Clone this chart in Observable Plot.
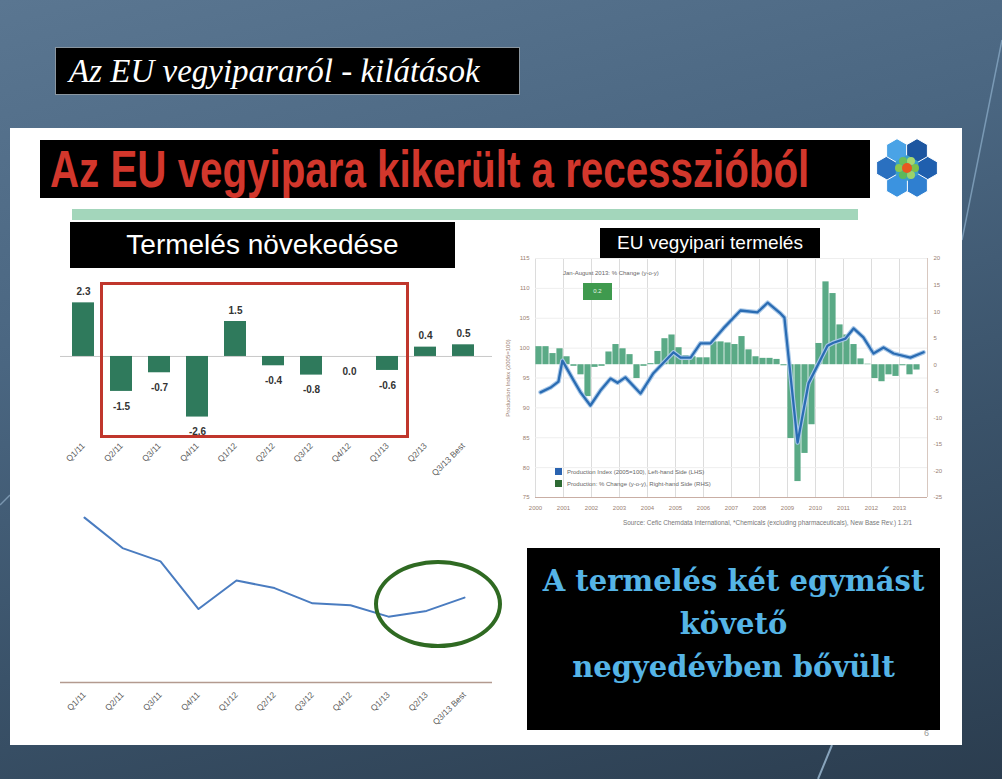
<!DOCTYPE html>
<html><head><meta charset="utf-8">
<script src="https://cdn.jsdelivr.net/npm/d3@7"></script>
<script src="https://cdn.jsdelivr.net/npm/@observablehq/plot@0.6"></script>
<style>
html,body{margin:0;padding:0;}
body{width:1002px;height:779px;position:relative;overflow:hidden;
 background:linear-gradient(165deg,#5a7691 0%,#4a6681 35%,#3a5269 65%,#2b3d4f 100%);
 font-family:"Liberation Sans",Arial,sans-serif;}
.abs{position:absolute;}
#panel{left:10px;top:128px;width:952px;height:617px;background:#fff;}
#topbox{left:55px;top:47px;background:#000;border:1px solid #8a96a0;color:#fff;
 font-family:"Liberation Serif",serif;font-style:italic;font-size:33px;line-height:46px;padding-left:13px;box-sizing:border-box;width:465px;height:48px;white-space:nowrap;}
#redbox{left:40px;top:140px;width:830px;height:58px;background:#000;overflow:hidden;}
#redtxt{position:absolute;left:10px;top:0;color:#d2372c;font-weight:bold;font-size:52px;line-height:58px;white-space:nowrap;transform:scaleX(0.775);transform-origin:0 50%;}
#greenbar{left:72px;top:209px;width:786px;height:11px;background:#a3d6bb;}
#termbox{left:70px;top:222px;width:385px;height:46px;background:#000;color:#fff;font-size:28px;line-height:46px;text-align:center;}
#eubox{left:600px;top:228px;width:220px;height:30px;background:#000;color:#fff;font-size:19px;line-height:30px;text-align:center;}
#redrect{left:100px;top:282px;width:309px;height:156px;border:3px solid #c0362c;box-sizing:border-box;}
#ellipse{left:374px;top:560px;width:128px;height:88px;border:4px solid #2f6a22;border-radius:50%;box-sizing:border-box;}
#bluebox{left:527px;top:548px;width:413px;height:182px;background:#000;color:#55b4e6;font-family:"DejaVu Serif",serif;font-weight:bold;font-size:29px;line-height:43px;text-align:center;padding-top:12px;box-sizing:border-box;white-space:nowrap;}
.tiny{font-size:6px;color:#666;white-space:nowrap;}
</style></head>
<body>
<svg class="abs" style="left:0;top:0" width="1002" height="779">
 <line x1="1002" y1="40" x2="962" y2="240" stroke="#8fb0cc" stroke-width="1.5" opacity="0.7"/>
 <line x1="832" y1="745" x2="818" y2="779" stroke="#9fbdd6" stroke-width="2" opacity="0.8"/>
 <line x1="0" y1="505" x2="10" y2="495" stroke="#9fbdd6" stroke-width="1.5" opacity="0.6"/>
</svg>
<div id="topbox" class="abs">Az EU vegyipararól - kilátások</div>
<div id="panel" class="abs"></div>
<div id="redbox" class="abs"><div id="redtxt">Az EU vegyipara kikerült a recesszióból</div></div>
<svg class="abs" style="left:872px;top:135px" width="70" height="66" viewBox="-35 -33 70 66">
 <g id="logo"></g>
</svg>
<div id="greenbar" class="abs"></div>
<div id="termbox" class="abs">Termelés növekedése</div>
<div id="barchart" class="abs" style="left:50px;top:280px"></div>
<div id="redrect" class="abs"></div>
<div id="linechart" class="abs" style="left:50px;top:500px"></div>
<div id="ellipse" class="abs"></div>
<div id="eucchart" class="abs" style="left:500px;top:250px"></div>
<div id="eubox" class="abs">EU vegyipari termelés</div>
<div class="abs tiny" style="left:563px;top:270px;">Jan-August 2013: % Change (y-o-y)</div>
<div class="abs" style="left:583px;top:283px;width:29px;height:17px;background:#3f9a4e;color:#e8f5e8;font-size:6px;line-height:17px;text-align:center;">0.2</div>
<div class="abs" style="left:555px;top:468px;width:7px;height:7px;background:#2a63b0;"></div>
<div class="abs tiny" style="left:567px;top:468px;line-height:8px;">Production Index (2005=100), Left-hand Side (LHS)</div>
<div class="abs" style="left:555px;top:480px;width:7px;height:7px;background:#2d6a33;"></div>
<div class="abs tiny" style="left:567px;top:480px;line-height:8px;">Production: % Change (y-o-y), Right-hand Side (RHS)</div>
<div class="abs tiny" style="left:623px;top:519px;font-size:6.4px;color:#777;">Source: Cefic Chemdata International, *Chemicals (excluding pharmaceuticals), New Base Rev.) 1.2/1</div>
<div id="bluebox" class="abs">A termelés két egymást<br>követő<br>negyedévben bővült</div>
<div class="abs" style="left:924px;top:728px;font-size:9px;color:#999;">6</div>
<script>
// ---------- data ----------
const quarterLabels = ["Q1/11","Q2/11","Q3/11","Q4/11","Q1/12","Q2/12","Q3/12","Q4/12","Q1/13","Q2/13","Q3/13 Best"];
const growthValues = [2.3, -1.5, -0.7, -2.6, 1.5, -0.4, -0.8, 0.0, -0.6, 0.4, 0.5];
const levelValues = [100.0, 98.4, 97.7, 95.2, 96.7, 96.3, 95.5, 95.4, 94.8, 95.1, 95.8];

const indexTimes = [2000.18,2000.54,2000.82,2000.96,2001.36,2001.61,2001.96,2002.32,2002.68,2002.93,2003.21,2003.75,2004.21,2004.93,2005.18,2005.54,2005.89,2006.25,2006.71,2007.32,2007.93,2008.29,2008.75,2008.89,2009.36,2009.75,2010.43,2010.64,2011.07,2011.36,2011.71,2012.07,2012.43,2012.79,2013.39,2013.86];
const indexValues = [92.6,93.4,94.4,97.9,94.6,92.6,90.4,92.9,94.9,94.2,95.1,92.4,95.8,99.3,98.4,98.4,100.8,100.8,103.3,106.3,106.0,107.6,105.8,105.1,84.2,94.1,100.4,100.9,101.6,103.3,101.8,99.1,100.1,99.1,98.4,99.3];
// quarterly % change y-o-y, from 2000 Q1
const changeStartYear = 2000;
const changeValues = [3.4,3.4,2.1,3.0,1.5,-0.3,-1.9,-6.0,-0.5,-0.3,2.4,3.8,3.0,1.9,-2.6,-0.3,0.2,2.5,4.9,5.6,3.2,1.7,1.5,1.3,1.3,4.3,4.3,4.1,3.8,5.3,2.8,1.5,1.2,1.2,1.0,-0.2,-13.9,-22.0,-16.7,-11.3,4.0,15.6,13.4,7.5,5.6,3.8,1.1,0.1,-2.6,-3.2,-1.9,-2.2,-0.2,-1.9,-1.0];
const yearTicks = [2000,2001,2002,2003,2004,2005,2006,2007,2008,2009,2010,2011,2012,2013];
const leftTicks = [75,80,85,90,95,100,105,110,115];
const rightTicks = [-25,-20,-15,-10,-5,0,5,10,15,20];

// ---------- logo ----------
(function(){
  const g = d3.select("#logo");
  const hex = (cx,cy,r)=>d3.range(6).map(k=>{const a=Math.PI/3*k+Math.PI/6;return [cx+r*Math.cos(a),cy+r*Math.sin(a)].join(",");}).join(" ");
  const outer = ["#1f5fae","#2f7fd0","#3b93e0","#2a70c0","#4aa3e6","#1d56a0"];
  for(let k=0;k<6;k++){const a=Math.PI/3*k;g.append("polygon").attr("points",hex(20*Math.cos(a),20*Math.sin(a),12)).attr("fill",outer[k]).attr("stroke","#fff").attr("stroke-width",1);}
  g.append("polygon").attr("points",hex(0,0,13)).attr("fill","#3aa0c8");
  const inner=["#7cc04a","#9bd36a","#5cb85c","#8ac850","#6bbf5a","#a6d870"];
  for(let k=0;k<6;k++){const a=Math.PI/3*k;g.append("circle").attr("cx",8*Math.cos(a)).attr("cy",8*Math.sin(a)).attr("r",4).attr("fill",inner[k]);}
  g.append("circle").attr("r",5).attr("fill","#e8581e");
})();

const axisStyle = {fontFamily:"Liberation Sans, Arial, sans-serif", fontSize:"8.5px", color:"#5a5a5a", background:"transparent", overflow:"visible"};

// ---------- bar chart ----------
const barData = quarterLabels.map((c,i)=>({cat:c, v:growthValues[i]}));
document.getElementById("barchart").append(Plot.plot({
  width: 450, height: 218,
  marginLeft: 10, marginRight: 8, marginTop: 10, marginBottom: 60,
  style: axisStyle,
  x: {domain: quarterLabels, paddingInner: 0.42, paddingOuter: 0.276, align: 0.41, tickRotate: -45, tickSize: 0, tickPadding: 6, label: null},
  y: {domain: [-3.52, 2.83], axis: null},
  marks: [
    Plot.ruleY([0], {stroke:"#c8c8c8"}),
    Plot.barY(barData, {x:"cat", y:"v", fill:"#2f7a5c"}),
    Plot.text(barData.filter(d=>d.v>0), {x:"cat", y:"v", text:d=>d.v.toFixed(1), dy:-11, fontWeight:"bold", fontSize:10, fill:"#333"}),
    Plot.text(barData.filter(d=>d.v<=0), {x:"cat", y:"v", text:d=>d.v.toFixed(1), dy:15, fontWeight:"bold", fontSize:10, fill:"#333"})
  ]
}));

// ---------- line chart ----------
const lineYDomain = [91.29, 100.53];
const lineData = quarterLabels.map((c,i)=>({cat:c, v:levelValues[i]}));
document.getElementById("linechart").append(Plot.plot({
  width: 450, height: 240,
  marginLeft: 10, marginRight: 8, marginTop: 7, marginBottom: 57,
  style: axisStyle,
  x: {type:"point", domain: quarterLabels, padding: 0.567, align: 0.455, tickRotate: -45, tickSize: 0, tickPadding: 10, label: null},
  y: {domain: lineYDomain, axis: null},
  marks: [
    Plot.ruleY([lineYDomain[0]], {stroke:"#b39a8f", strokeWidth:1.5, dy:-1}),
    Plot.line(lineData, {x:"cat", y:"v", stroke:"#4a7cc0", strokeWidth:2})
  ]
}));

// ---------- EU production chart (dual axis) ----------
const toLeft = v => 75 + (v + 25) * 40 / 45;
const fromLeft = d => Math.round((d - 75) * 45 / 40 - 25);
const indexData = indexTimes.map((t,i)=>({t, v:indexValues[i]}));
const changeData = changeValues.map((v,i)=>({x1: changeStartYear + i/4, x2: changeStartYear + (i+1)/4, v}));
document.getElementById("eucchart").append(Plot.plot({
  width: 455, height: 280,
  marginLeft: 35, marginRight: 28, marginTop: 8, marginBottom: 33,
  style: {fontFamily:"Liberation Sans, Arial, sans-serif", fontSize:"6px", color:"#9a8072", background:"transparent"},
  x: {domain: [2000, 2014]},
  y: {domain: [75, 115]},
  marks: [
    Plot.gridX(yearTicks, {stroke:"#dcdcdc", strokeOpacity:1}),
    Plot.gridY(leftTicks, {stroke:"#eeeeee", strokeOpacity:1}),
    Plot.rect(changeData, {x1:"x1", x2:"x2", y1: d=>toLeft(0), y2: d=>toLeft(d.v), fill:"#5aaa86", insetLeft:0.4, insetRight:0.4}),
    Plot.line(indexData, {x:"t", y:"v", stroke:"#a9c8e8", strokeWidth:4.5}),
    Plot.line(indexData, {x:"t", y:"v", stroke:"#2a6cb3", strokeWidth:2.3}),
    Plot.ruleY([75], {stroke:"#c9aea4"}),
    Plot.ruleX([2014], {stroke:"#d8c8c0"}),
    Plot.axisX(yearTicks, {tickSize:0, tickPadding:8, tickFormat: d=>String(d), label:null, fontSize:6, color:"#9a8072"}),
    Plot.axisY(leftTicks, {anchor:"left", tickSize:0, tickPadding:6, fontSize:6, color:"#9a8072", label:"Production Index (2005=100)", labelAnchor:"center", labelOffset:30, labelArrow:"none"}),
    Plot.axisY(rightTicks.map(toLeft), {anchor:"right", tickSize:0, tickPadding:6, tickFormat: fromLeft, fontSize:6, color:"#9a8072", label:null})
  ]
}));
</script>
</body></html>
